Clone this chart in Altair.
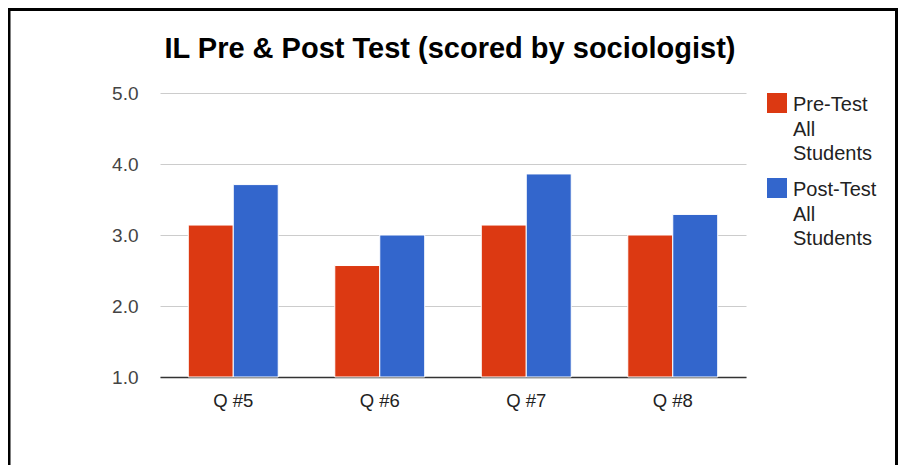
import altair as alt
import pandas as pd

questions = ["Q #5", "Q #6", "Q #7", "Q #8"]
series = ["Pre-Test All Students", "Post-Test All Students"]
pre_test = [3.14, 2.57, 3.14, 3.0]
post_test = [3.71, 3.0, 3.86, 3.29]
y_ticks = [1, 2, 3, 4, 5]
colors = ["#DC3912", "#3366CC"]
title_text = "IL Pre & Post Test (scored by sociologist)"

rows = []
for q, a, b in zip(questions, pre_test, post_test):
    rows.append({"question": q, "series": series[0], "score": a, "base": 1.0})
    rows.append({"question": q, "series": series[1], "score": b, "base": 1.0})
df = pd.DataFrame(rows)

W, H = 586, 284

bars = alt.Chart(df).mark_bar(stroke="white", strokeWidth=1).encode(
    x=alt.X(
        "question:N", sort=questions,
        scale=alt.Scale(paddingInner=0.386, paddingOuter=0.193),
        axis=alt.Axis(title=None, labelAngle=0, ticks=False, domainColor="#333",
                      domainWidth=1.5, labelFontSize=18.5, labelColor="#222",
                      labelPadding=14),
    ),
    xOffset=alt.XOffset("series:N", sort=series,
                        scale=alt.Scale(paddingInner=0, paddingOuter=0)),
    y=alt.Y(
        "score:Q",
        scale=alt.Scale(domain=[1, 5], zero=False, nice=False),
        axis=alt.Axis(title=None, values=y_ticks, format=".1f", domain=False,
                      ticks=False, gridColor="#cccccc", labelFontSize=19,
                      labelColor="#444", labelPadding=22),
    ),
    y2=alt.Y2("base:Q"),
    color=alt.Color(
        "series:N", sort=series,
        scale=alt.Scale(domain=series, range=colors),
        legend=alt.Legend(title=None, orient="none", legendX=607, legendY=8,
                          labelExpr="split(datum.label, ' ')",
                          symbolType="M-1,-1.8H1V0.2H-1Z", symbolSize=400,
                          symbolStrokeWidth=0, labelFontSize=20,
                          labelColor="#222", labelOffset=6,
                          labelBaseline="alphabetic", rowPadding=14, padding=0),
    ),
)

frame = alt.Chart(alt.Data(values=[{"f": 1}])).mark_rect(
    fill="white", fillOpacity=0, stroke="black", strokeWidth=3
).encode(
    x=alt.value(-151), x2=alt.value(736.5), y=alt.value(-83.5), y2=alt.value(H + 150)
)

chart = alt.layer(bars, frame).properties(
    width=W, height=H,
    title=alt.Title(title_text, fontSize=29, fontWeight="bold", color="#000",
                    anchor="middle", offset=0, baseline="bottom", dx=-3, dy=85),
    padding={"left": 152, "top": 85, "right": 152, "bottom": 88},
    autosize=alt.AutoSizeParams(type="none"),
).configure(
    font="Liberation Sans",
    style={"guide-label": {"lineHeight": 24.5}},
).configure_view(strokeWidth=0)

chart.save("out.html", embed_options={"renderer": "svg", "actions": False})
